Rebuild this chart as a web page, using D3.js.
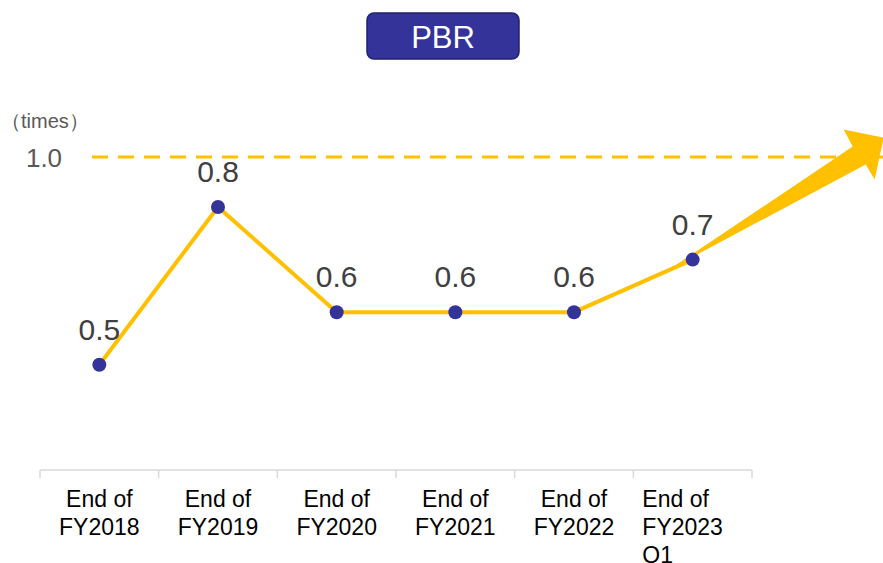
<!DOCTYPE html>
<html>
<head>
<meta charset="utf-8">
<script src="https://cdn.jsdelivr.net/npm/d3@7"></script>
<style>
  body { margin: 0; background: #fff; }
  svg { font-family: "Liberation Sans", Arial, sans-serif; }
</style>
</head>
<body>
<div id="chart"></div>
<script>
// Data
const categories = ["FY2018", "FY2019", "FY2020", "FY2021", "FY2022", "FY2023"];
const catLines = [["End of", "FY2018"], ["End of", "FY2019"], ["End of", "FY2020"], ["End of", "FY2021"], ["End of", "FY2022"], ["End of", "FY2023", "Q1"]];
const pbrValues = [0.5, 0.8, 0.6, 0.6, 0.6, 0.7];
const targetValue = 1.0;

const width = 883, height = 563;

const svg = d3.select("#chart")
  .append("svg")
  .attr("width", width)
  .attr("height", height);

// X scale: bands between axis ends
const x = d3.scaleBand().domain(categories).range([40, 752]);

// Y scale (the 1.0 line is drawn compressed, like the original)
const y = d3.scaleLinear().domain([0.3, 0.8, 1.0]).range([470, 207, 157]);

// Title badge
svg.append("rect")
  .attr("x", 367).attr("y", 13)
  .attr("width", 152).attr("height", 46)
  .attr("rx", 7)
  .style("fill", "#333399")
  .style("stroke", "#22226e")
  .style("stroke-width", 1.5);
svg.append("text")
  .attr("x", 443).attr("y", 48)
  .attr("text-anchor", "middle")
  .style("font-size", "31px")
  .style("fill", "#fff")
  .text("PBR");

// Unit label
svg.append("text")
  .attr("x", 1).attr("y", 128)
  .style("font-size", "20px")
  .style("fill", "#595959")
  .text("（times）");

// Target line
svg.append("line")
  .attr("x1", 92).attr("x2", width)
  .attr("y1", y(targetValue)).attr("y2", y(targetValue))
  .style("stroke", "#FFC000")
  .style("stroke-width", 3)
  .style("stroke-dasharray", "16,10");
svg.append("text")
  .attr("x", 44).attr("y", y(targetValue) + 10)
  .attr("text-anchor", "middle")
  .style("font-size", "26px")
  .style("fill", "#595959")
  .text(d3.format(".1f")(targetValue));

// X axis
const xAxis = svg.append("g").attr("transform", "translate(0,470)");
xAxis.append("line")
  .attr("x1", 40).attr("x2", 752)
  .style("stroke", "#d9d9d9").style("stroke-width", 1.5);
xAxis.selectAll(".tick")
  .data(categories.map(c => x(c)).concat([752]))
  .enter()
  .append("line")
  .attr("x1", d => d).attr("x2", d => d)
  .attr("y1", 0).attr("y2", 8)
  .style("stroke", "#d9d9d9").style("stroke-width", 1.5);

const labels = svg.append("g").selectAll("text")
  .data(categories)
  .enter()
  .append("text")
  .attr("text-anchor", (d, i) => i === categories.length - 1 ? "start" : "middle")
  .attr("x", (d, i) => i === categories.length - 1 ? x(d) + 9 : x(d) + x.bandwidth() / 2)
  .style("font-size", "23px")
  .style("fill", "#000");
labels.each(function(d, i) {
  const t = d3.select(this);
  const xx = t.attr("x");
  catLines[i].forEach((line, j) => {
    t.append("tspan").attr("x", xx).attr("y", 507 + j * 28).text(line);
  });
});

// Arrow from last point upward
const last = categories.length - 1;
const ax = x(categories[last]) + x.bandwidth() / 2;
const ay = y(pbrValues[last]);
svg.append("path")
  .attr("d", `M${ax - 22},${ay + 9} L${ax + 160},${ay - 113} L${ax + 151},${ay - 130} L${ax + 191},${ay - 122} L${ax + 182},${ay - 80} L${ax + 173},${ay - 95} Z`)
  .style("fill", "#FFC000");

// Line
const lineGen = d3.line()
  .x((d, i) => x(categories[i]) + x.bandwidth() / 2)
  .y(d => y(d));
svg.append("path")
  .datum(pbrValues)
  .attr("d", lineGen)
  .style("fill", "none")
  .style("stroke", "#FFC000")
  .style("stroke-width", 4);

// Points
svg.append("g").selectAll("circle")
  .data(pbrValues)
  .enter()
  .append("circle")
  .attr("cx", (d, i) => x(categories[i]) + x.bandwidth() / 2)
  .attr("cy", d => y(d))
  .attr("r", 7)
  .style("fill", "#333399");

// Value labels
svg.append("g").selectAll("text")
  .data(pbrValues)
  .enter()
  .append("text")
  .attr("x", (d, i) => x(categories[i]) + x.bandwidth() / 2)
  .attr("y", d => y(d) - 25)
  .attr("text-anchor", "middle")
  .style("font-size", "30px")
  .style("fill", "#404040")
  .text(d => d3.format(".1f")(d));
</script>
</body>
</html>
